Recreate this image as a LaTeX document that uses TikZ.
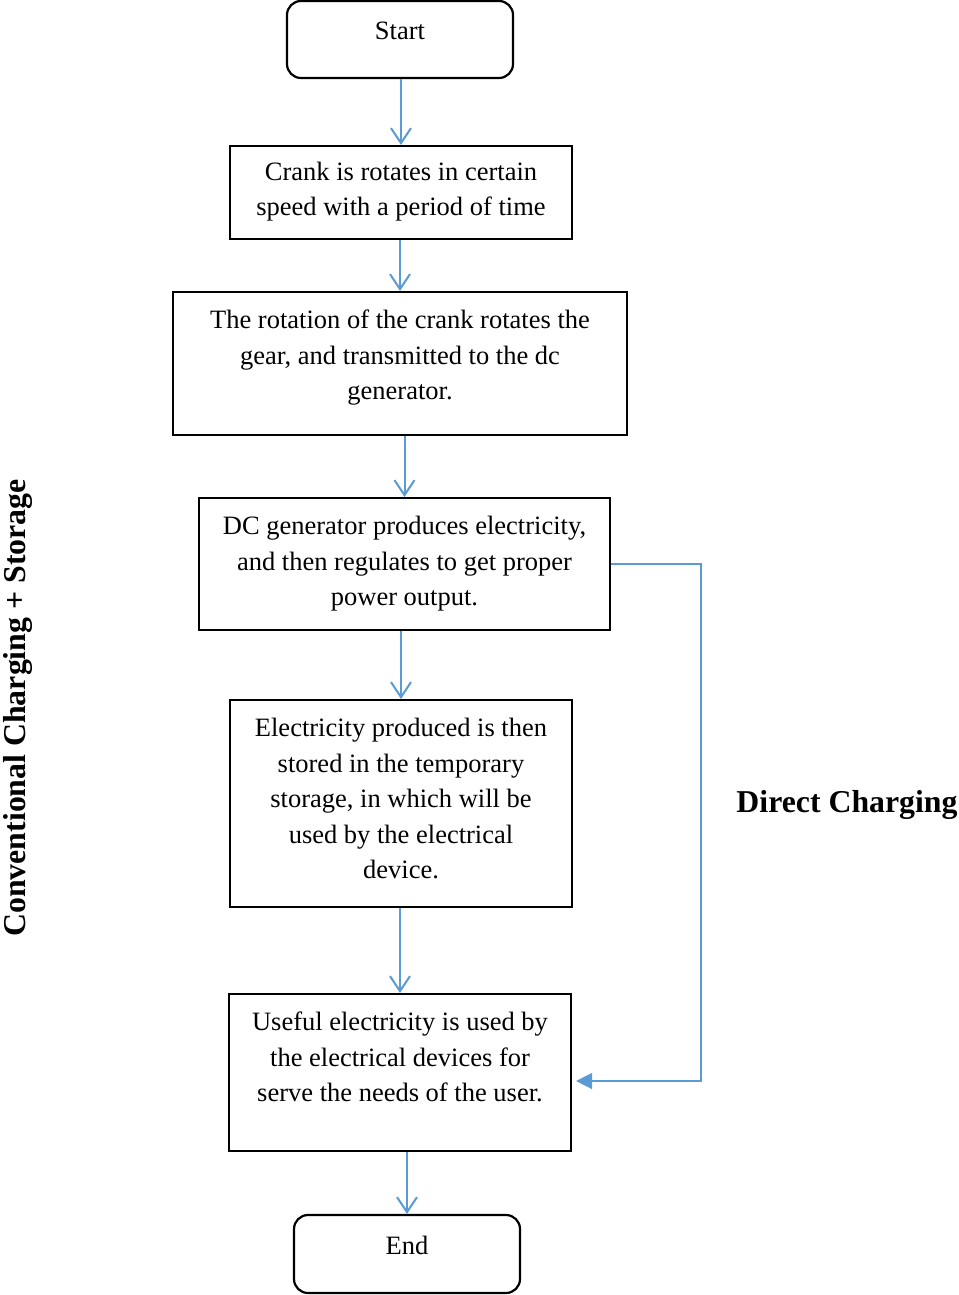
\documentclass[tikz,border=0pt]{standalone}
\usepackage{fontspec}
\setmainfont{Liberation Serif}
\usetikzlibrary{arrows.meta, positioning}
\definecolor{flowblue}{RGB}{91,155,213}

\begin{document}
\begin{tikzpicture}[x=1pt, y=-1pt,
    box/.style={draw, line width=2.2pt, align=center, inner sep=0pt,
        font=\fontsize{26.5}{35.5}\selectfont},
    term/.style={box, rounded corners=14pt, minimum width=226pt, minimum height=77pt},
    flow/.style={flowblue, line width=2pt, -{Straight Barb[length=15pt, width=20pt]}},
    direct/.style={flowblue, line width=1.5pt, -{Triangle[length=16pt, width=16pt]}},
    side/.style={inner sep=0pt, font=\fontsize{31.8}{36}\selectfont\bfseries}]
    \useasboundingbox (0, 0) rectangle (958, 1295);

    \node[term, text depth=17pt] (start) at (400, 39.5) {Start};
    \node[box, minimum width=342pt, minimum height=93pt, text depth=7pt] (crank) at (401, 192.5)
        {Crank is rotates in certain\\speed with a period of time};
    \node[box, minimum width=454pt, minimum height=143pt, text depth=17pt] (gear) at (400, 363.5)
        {The rotation of the crank rotates the\\gear, and transmitted to the dc\\generator.};
    \node[box, minimum width=411pt, minimum height=132pt, text depth=6pt] (gen) at (404.5, 564)
        {DC generator produces electricity,\\and then regulates to get proper\\power output.};
    \node[box, minimum width=342pt, minimum height=207pt, text depth=10pt] (store) at (401, 803.5)
        {Electricity produced is then\\stored in the temporary\\storage, in which will be\\used by the electrical\\device.};
    \node[box, minimum width=342pt, minimum height=157pt, text depth=31pt] (use) at (400, 1072.5)
        {Useful electricity is used by\\the electrical devices for\\serve the needs of the user.};
    \node[term, minimum height=78pt, text depth=18pt] (stop) at (407, 1254) {End};

    \node[side, rotate=90] (conv) at (18, 708) {Conventional Charging + Storage};
    \node[side] (dcharge) at (847, 805) {Direct Charging};

    \draw[flow] (crank.north |- start.south) -- (crank.north);
    \draw[flow] (gear.north |- crank.south) -- (gear.north);
    \draw[flow] (gen.north |- gear.south) -- (gen.north);
    \draw[flow] (store.north |- gen.south) -- (store.north);
    \draw[flow] (use.north |- store.south) -- (use.north);
    \draw[flow] (stop.north |- use.south) -- (stop.north);

    % direct charging bypass
    \draw[direct] (gen.east) -- ++(90, 0) |- ([xshift=4pt, yshift=-8.5pt]use.east);
\end{tikzpicture}
\end{document}
